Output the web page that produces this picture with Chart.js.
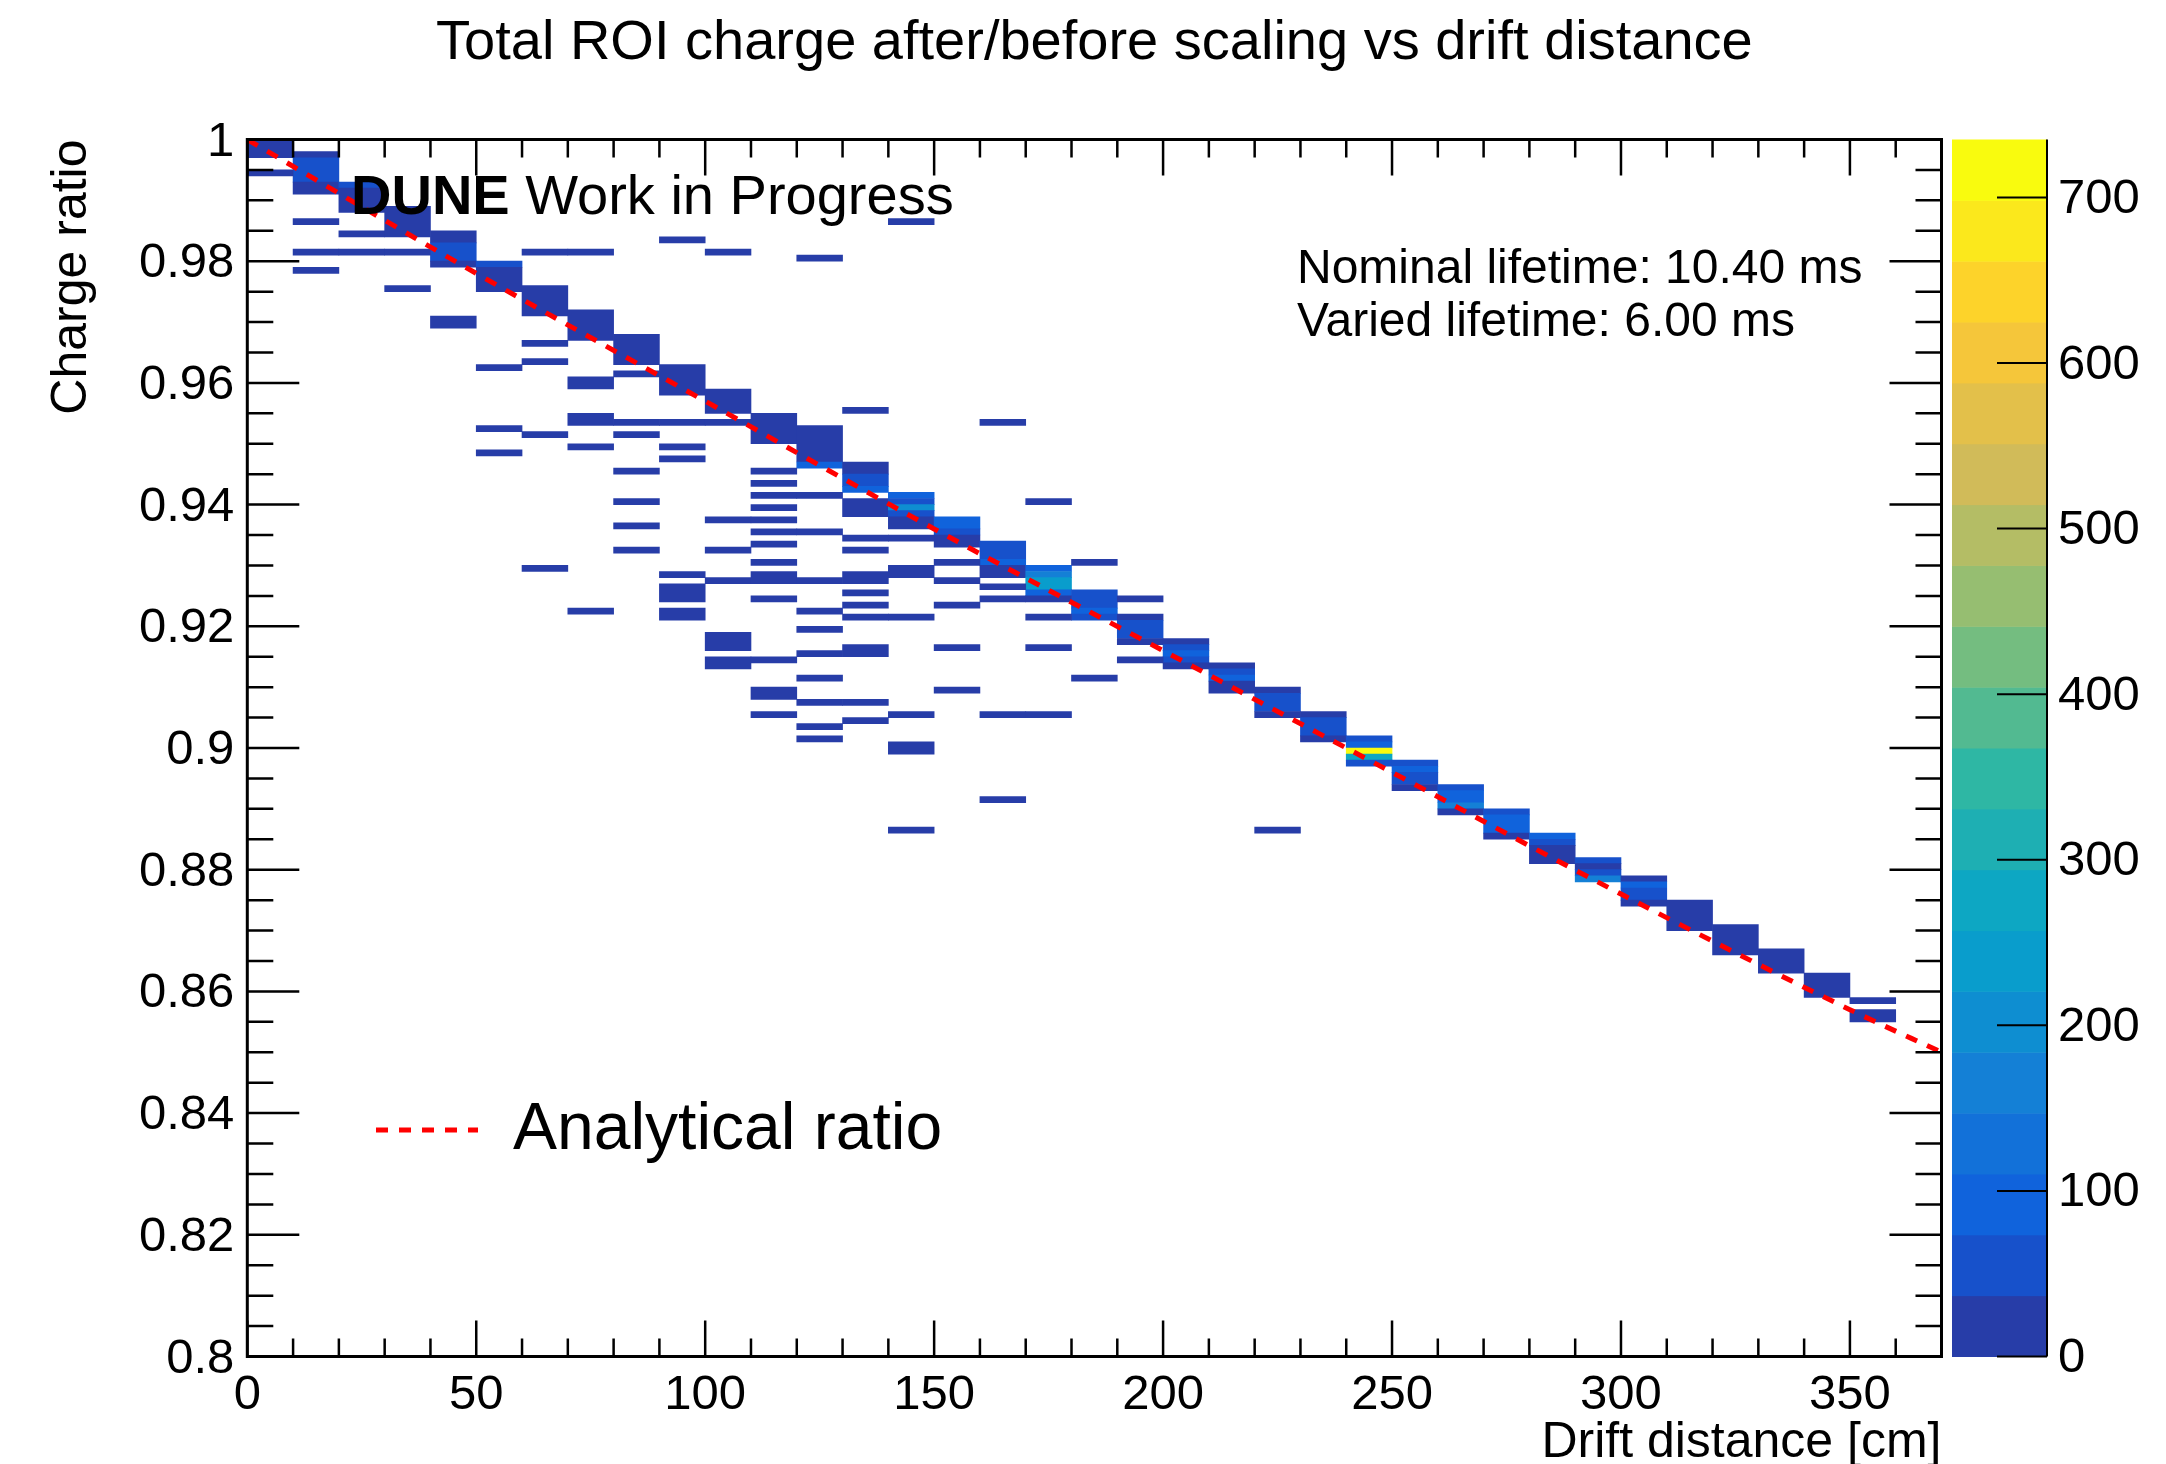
<!DOCTYPE html>
<html>
<head>
<meta charset="utf-8">
<title>Total ROI charge after/before scaling vs drift distance</title>
<script src="https://cdn.jsdelivr.net/npm/chart.js@4.4.1/dist/chart.umd.min.js"></script>
<style>
  html, body { margin: 0; padding: 0; background: #fff; overflow: hidden; }
  #wrap { width: 2166px; height: 1464px; position: relative; }
</style>
</head>
<body>
<div id="wrap"><canvas id="chart"></canvas></div>
<script>
const FONT = "'Liberation Sans', Arial, Helvetica, sans-serif";

// axes
const xTickValues = [0, 50, 100, 150, 200, 250, 300, 350];
const yTickValues = [0.8, 0.82, 0.84, 0.86, 0.88, 0.9, 0.92, 0.94, 0.96, 0.98, 1.0];
const zTickValues = [0, 100, 200, 300, 400, 500, 600, 700];
const zMax = 735;
const nContours = 20;
const binWidth = 10; // cm

// cells: [drift bin low edge (cm), ratio top, ratio bottom, entries]
const mainBand = [
  [0, 1.000, 0.997, 15],
  [10, 0.998, 0.997, 15], [10, 0.997, 0.993, 55], [10, 0.993, 0.991, 15],
  [20, 0.993, 0.992, 55], [20, 0.992, 0.988, 15],
  [30, 0.989, 0.984, 15],
  [40, 0.985, 0.983, 15], [40, 0.983, 0.980, 55], [40, 0.980, 0.979, 15],
  [50, 0.980, 0.979, 55], [50, 0.979, 0.975, 15],
  [60, 0.976, 0.971, 15],
  [70, 0.972, 0.967, 15],
  [80, 0.968, 0.963, 15],
  [90, 0.963, 0.958, 15],
  [100, 0.959, 0.955, 15],
  [110, 0.955, 0.950, 15],
  [120, 0.953, 0.947, 15], [120, 0.947, 0.946, 90],
  [130, 0.947, 0.945, 15], [130, 0.945, 0.943, 55], [130, 0.943, 0.942, 90], [130, 0.941, 0.938, 15],
  [140, 0.942, 0.941, 90], [140, 0.941, 0.940, 55], [140, 0.940, 0.939, 200], [140, 0.939, 0.938, 55], [140, 0.938, 0.936, 15],
  [150, 0.938, 0.936, 90], [150, 0.936, 0.935, 55], [150, 0.935, 0.933, 15],
  [160, 0.934, 0.931, 55], [160, 0.931, 0.930, 90], [160, 0.930, 0.928, 15],
  [170, 0.930, 0.929, 90], [170, 0.929, 0.928, 165], [170, 0.928, 0.926, 240], [170, 0.926, 0.925, 90],
  [180, 0.926, 0.923, 55], [180, 0.923, 0.922, 90], [180, 0.922, 0.921, 55],
  [190, 0.922, 0.921, 15], [190, 0.921, 0.918, 55], [190, 0.918, 0.917, 15],
  [200, 0.918, 0.917, 15], [200, 0.917, 0.916, 55], [200, 0.916, 0.915, 90], [200, 0.915, 0.914, 55], [200, 0.914, 0.913, 15],
  [210, 0.914, 0.913, 15], [210, 0.913, 0.912, 55], [210, 0.912, 0.911, 90], [210, 0.911, 0.909, 15],
  [220, 0.910, 0.909, 15], [220, 0.909, 0.906, 55], [220, 0.906, 0.905, 15],
  [230, 0.906, 0.905, 15], [230, 0.905, 0.902, 55], [230, 0.902, 0.901, 15],
  [240, 0.902, 0.901, 55], [240, 0.901, 0.900, 90], [240, 0.900, 0.899, 735], [240, 0.899, 0.898, 280], [240, 0.898, 0.897, 55],
  [250, 0.898, 0.897, 55], [250, 0.897, 0.896, 90], [250, 0.896, 0.894, 55], [250, 0.894, 0.893, 15],
  [260, 0.894, 0.893, 55], [260, 0.893, 0.891, 90], [260, 0.891, 0.890, 165], [260, 0.890, 0.889, 15],
  [270, 0.890, 0.889, 55], [270, 0.889, 0.886, 90], [270, 0.886, 0.885, 15],
  [280, 0.886, 0.885, 90], [280, 0.885, 0.884, 55], [280, 0.884, 0.881, 15],
  [290, 0.882, 0.881, 55], [290, 0.881, 0.880, 15], [290, 0.880, 0.879, 55], [290, 0.879, 0.878, 165],
  [300, 0.879, 0.878, 15], [300, 0.878, 0.877, 90], [300, 0.877, 0.875, 55], [300, 0.875, 0.874, 15],
  [310, 0.875, 0.870, 15],
  [320, 0.871, 0.866, 15],
  [330, 0.867, 0.863, 15],
  [340, 0.863, 0.859, 15],
  [350, 0.859, 0.858, 15], [350, 0.857, 0.855, 15]
];

// off-diagonal single entries
const offBand = [
  [0, 0.995, 0.994, 3],
  [10, 0.987, 0.986, 3], [10, 0.982, 0.981, 3], [10, 0.979, 0.978, 3],
  [20, 0.985, 0.984, 3], [20, 0.982, 0.981, 3],
  [30, 0.982, 0.981, 3], [30, 0.976, 0.975, 3],
  [40, 0.971, 0.969, 3],
  [50, 0.963, 0.962, 3], [50, 0.953, 0.952, 3], [50, 0.949, 0.948, 3],
  [60, 0.982, 0.981, 3], [60, 0.967, 0.966, 3], [60, 0.964, 0.963, 3], [60, 0.952, 0.951, 3], [60, 0.930, 0.929, 3],
  [70, 0.982, 0.981, 3], [70, 0.961, 0.959, 3], [70, 0.955, 0.953, 3], [70, 0.950, 0.949, 3], [70, 0.923, 0.922, 3],
  [80, 0.962, 0.961, 3], [80, 0.954, 0.953, 3], [80, 0.952, 0.951, 3], [80, 0.946, 0.945, 3], [80, 0.941, 0.940, 3],
  [80, 0.937, 0.936, 3], [80, 0.933, 0.932, 3],
  [90, 0.984, 0.983, 3], [90, 0.954, 0.953, 3], [90, 0.950, 0.949, 3], [90, 0.948, 0.947, 3], [90, 0.929, 0.928, 3],
  [90, 0.927, 0.924, 3], [90, 0.923, 0.921, 3],
  [100, 0.982, 0.981, 3], [100, 0.954, 0.953, 3], [100, 0.938, 0.937, 3], [100, 0.933, 0.932, 3], [100, 0.928, 0.927, 3],
  [100, 0.919, 0.916, 3], [100, 0.915, 0.913, 3],
  [110, 0.946, 0.945, 3], [110, 0.944, 0.943, 3], [110, 0.942, 0.941, 3], [110, 0.940, 0.939, 3], [110, 0.938, 0.937, 3],
  [110, 0.936, 0.935, 3], [110, 0.934, 0.933, 3], [110, 0.931, 0.930, 3], [110, 0.929, 0.927, 3], [110, 0.925, 0.924, 3],
  [110, 0.915, 0.914, 3], [110, 0.910, 0.908, 3], [110, 0.906, 0.905, 3],
  [120, 0.981, 0.980, 3], [120, 0.942, 0.941, 3], [120, 0.936, 0.935, 3], [120, 0.928, 0.927, 3], [120, 0.923, 0.922, 3],
  [120, 0.920, 0.919, 3], [120, 0.916, 0.915, 3], [120, 0.912, 0.911, 3], [120, 0.908, 0.907, 3], [120, 0.904, 0.903, 3],
  [120, 0.902, 0.901, 3],
  [130, 0.956, 0.955, 3], [130, 0.935, 0.934, 3], [130, 0.933, 0.932, 3], [130, 0.929, 0.927, 3], [130, 0.926, 0.925, 3],
  [130, 0.924, 0.923, 3], [130, 0.922, 0.921, 3], [130, 0.917, 0.915, 3], [130, 0.908, 0.907, 3], [130, 0.905, 0.904, 3],
  [140, 0.987, 0.986, 3], [140, 0.935, 0.934, 3], [140, 0.930, 0.928, 3], [140, 0.922, 0.921, 3], [140, 0.906, 0.905, 3],
  [140, 0.901, 0.899, 3], [140, 0.887, 0.886, 3],
  [150, 0.931, 0.930, 3], [150, 0.928, 0.927, 3], [150, 0.924, 0.923, 3], [150, 0.917, 0.916, 3], [150, 0.910, 0.909, 3],
  [160, 0.954, 0.953, 3], [160, 0.927, 0.926, 3], [160, 0.925, 0.924, 3], [160, 0.906, 0.905, 3], [160, 0.892, 0.891, 3],
  [170, 0.941, 0.940, 3], [170, 0.925, 0.924, 3], [170, 0.922, 0.921, 3], [170, 0.917, 0.916, 3], [170, 0.906, 0.905, 3],
  [180, 0.931, 0.930, 3], [180, 0.912, 0.911, 3],
  [190, 0.925, 0.924, 3], [190, 0.915, 0.914, 3],
  [220, 0.887, 0.886, 3]
];

// analytical ratio
const analyticX = [0, 50, 100, 150, 200, 250, 300, 350, 370];
const analyticY = [1.0, 0.978, 0.957, 0.936, 0.916, 0.896, 0.876, 0.857, 0.850];

// ROOT kBird palette stops
const birdStops = [0.0, 0.125, 0.25, 0.375, 0.5, 0.625, 0.75, 0.875, 1.0];
const birdR = [0.2082, 0.0592, 0.0780, 0.0232, 0.1802, 0.5301, 0.8186, 0.9956, 0.9764];
const birdG = [0.1664, 0.3599, 0.5041, 0.6419, 0.7178, 0.7492, 0.7328, 0.7862, 0.9832];
const birdB = [0.5293, 0.8684, 0.8385, 0.7914, 0.6425, 0.4662, 0.3499, 0.1968, 0.0539];

function birdColor(f) {
  let i = 0;
  while (i < birdStops.length - 2 && f > birdStops[i + 1]) i++;
  const t = (f - birdStops[i]) / (birdStops[i + 1] - birdStops[i]);
  const c = (a) => Math.round(255 * (a[i] + (a[i + 1] - a[i]) * t));
  return `rgb(${c(birdR)},${c(birdG)},${c(birdB)})`;
}

const contourColors = [];
for (let i = 0; i < nContours; i++) {
  contourColors.push(birdColor(Math.floor((i + 0.99) * 255 / nContours) / 254));
}

function zColor(n) {
  const i = Math.min(nContours - 1, Math.floor(n / zMax * nContours));
  return contourColors[i];
}

const rootDecor = {
  id: 'rootDecor',
  afterDatasetsDraw(chart) {
    const { ctx, chartArea } = chart;
    const { left, right, top, bottom } = chartArea;
    const xs = chart.scales.x;
    const ys = chart.scales.y;
    ctx.save();

    // frame
    ctx.strokeStyle = '#000';
    ctx.lineWidth = 3;
    ctx.strokeRect(left, top, right - left, bottom - top);

    // tick marks inside the frame
    ctx.lineWidth = 2.5;
    ctx.beginPath();
    for (let i = 0; i <= 40; i++) {
      const y = ys.getPixelForValue(0.8 + i * 0.005);
      const len = i % 4 === 0 ? 52 : 26;
      ctx.moveTo(left, y); ctx.lineTo(left + len, y);
      ctx.moveTo(right, y); ctx.lineTo(right - len, y);
    }
    for (let v = 0; v <= 370; v += 10) {
      const x = xs.getPixelForValue(v);
      const len = v % 50 === 0 ? 36 : 18;
      ctx.moveTo(x, bottom); ctx.lineTo(x, bottom - len);
      ctx.moveTo(x, top); ctx.lineTo(x, top + len);
    }
    ctx.stroke();

    // colour scale
    const cbLeft = right + 10.5, cbRight = right + 105.5;
    const h = bottom - top;
    contourColors.forEach((col, i) => {
      const y0 = bottom - (i + 1) / nContours * h;
      const y1 = bottom - i / nContours * h;
      ctx.fillStyle = col;
      ctx.fillRect(cbLeft, y0, cbRight - cbLeft, y1 - y0 + 0.5);
    });
    ctx.lineWidth = 2;
    ctx.beginPath();
    ctx.moveTo(cbRight, top); ctx.lineTo(cbRight, bottom);
    zTickValues.forEach((v) => {
      const y = bottom - v / zMax * h;
      ctx.moveTo(cbRight - 50, y); ctx.lineTo(cbRight, y);
    });
    ctx.stroke();
    ctx.fillStyle = '#000';
    ctx.font = `49px ${FONT}`;
    ctx.textAlign = 'left';
    ctx.textBaseline = 'middle';
    zTickValues.forEach((v) => {
      ctx.fillText(String(v), cbRight + 11, bottom - v / zMax * h + 2);
    });

    // labels
    ctx.textBaseline = 'alphabetic';
    ctx.font = `bold 56px ${FONT}`;
    ctx.fillText('DUNE', 351, 214);
    const w = ctx.measureText('DUNE').width;
    ctx.font = `56px ${FONT}`;
    ctx.fillText(' Work in Progress', 351 + w, 214);

    ctx.font = `48px ${FONT}`;
    ctx.fillText('Nominal lifetime: 10.40 ms', 1297, 283);
    ctx.fillText('Varied lifetime: 6.00 ms', 1297, 336);

    // legend
    ctx.strokeStyle = '#ff0000';
    ctx.lineWidth = 5;
    ctx.setLineDash([12, 11]);
    ctx.beginPath();
    ctx.moveTo(376, 1130); ctx.lineTo(478, 1130);
    ctx.stroke();
    ctx.setLineDash([]);
    ctx.font = `66px ${FONT}`;
    ctx.fillText('Analytical ratio', 513, 1149);

    ctx.restore();
  }
};

function init() {
  const cells = mainBand.concat(offBand).map(([x0, yTop, yBottom, n]) => ({
    x: x0 + binWidth / 2,
    y: [yBottom, yTop],
    n
  }));

  const ctx = document.getElementById('chart');
  new Chart(ctx, {
    type: 'bar',
    data: {
      datasets: [
        {
          type: 'line',
          label: 'Analytical ratio',
          data: analyticX.map((x, i) => ({ x, y: analyticY[i] })),
          borderColor: '#ff0000',
          borderWidth: 5,
          borderDash: [12, 11],
          pointRadius: 0,
          cubicInterpolationMode: 'monotone',
          order: 0
        },
        {
          label: 'entries',
          data: cells,
          backgroundColor: (c) => (c.raw ? zColor(c.raw.n) : contourColors[0]),
          borderWidth: 0,
          barPercentage: 1,
          categoryPercentage: 1,
          order: 1
        }
      ]
    },
    options: {
      responsive: true,
      maintainAspectRatio: false,
      animation: false,
      devicePixelRatio: 1,
      events: [],
      layout: { padding: { left: 0, right: 224.5, top: 0, bottom: 0 } },
      plugins: {
        legend: { display: false },
        tooltip: { enabled: false },
        title: {
          display: true,
          fullSize: false,
          text: 'Total ROI charge after/before scaling vs drift distance',
          color: '#000',
          font: { family: FONT, size: 56, weight: 'normal', lineHeight: 1.2 },
          padding: { top: 10, bottom: 62.3 }
        }
      },
      scales: {
        x: {
          type: 'linear',
          min: 0,
          max: 370,
          offset: false,
          grid: { display: false, offset: false },
          border: { display: false },
          afterBuildTicks: (s) => { s.ticks = xTickValues.map((v) => ({ value: v })); },
          afterFit: (s) => { s.height = 107.5; },
          ticks: {
            color: '#000',
            font: { family: FONT, size: 49 },
            padding: 2,
            maxRotation: 0,
            autoSkip: false
          },
          title: {
            display: true,
            text: 'Drift distance [cm]',
            align: 'end',
            color: '#000',
            font: { family: FONT, size: 50, lineHeight: 0.8 },
            padding: { top: 0, bottom: 0.5 }
          }
        },
        y: {
          type: 'linear',
          min: 0.8,
          max: 1.0,
          grid: { display: false },
          border: { display: false },
          afterBuildTicks: (s) => { s.ticks = yTickValues.map((v) => ({ value: v })); },
          afterFit: (s) => { s.width = 247.3; },
          ticks: {
            color: '#000',
            font: { family: FONT, size: 49 },
            padding: 5,
            labelOffset: 2.5,
            callback: (v) => String(+v.toFixed(2))
          },
          title: {
            display: true,
            text: 'Charge ratio',
            align: 'end',
            color: '#000',
            font: { family: FONT, size: 50, lineHeight: 1.2 },
            padding: { top: 42, bottom: 0 }
          }
        }
      }
    },
    plugins: [rootDecor]
  });
}

window.addEventListener('DOMContentLoaded', init);
</script>
</body>
</html>
